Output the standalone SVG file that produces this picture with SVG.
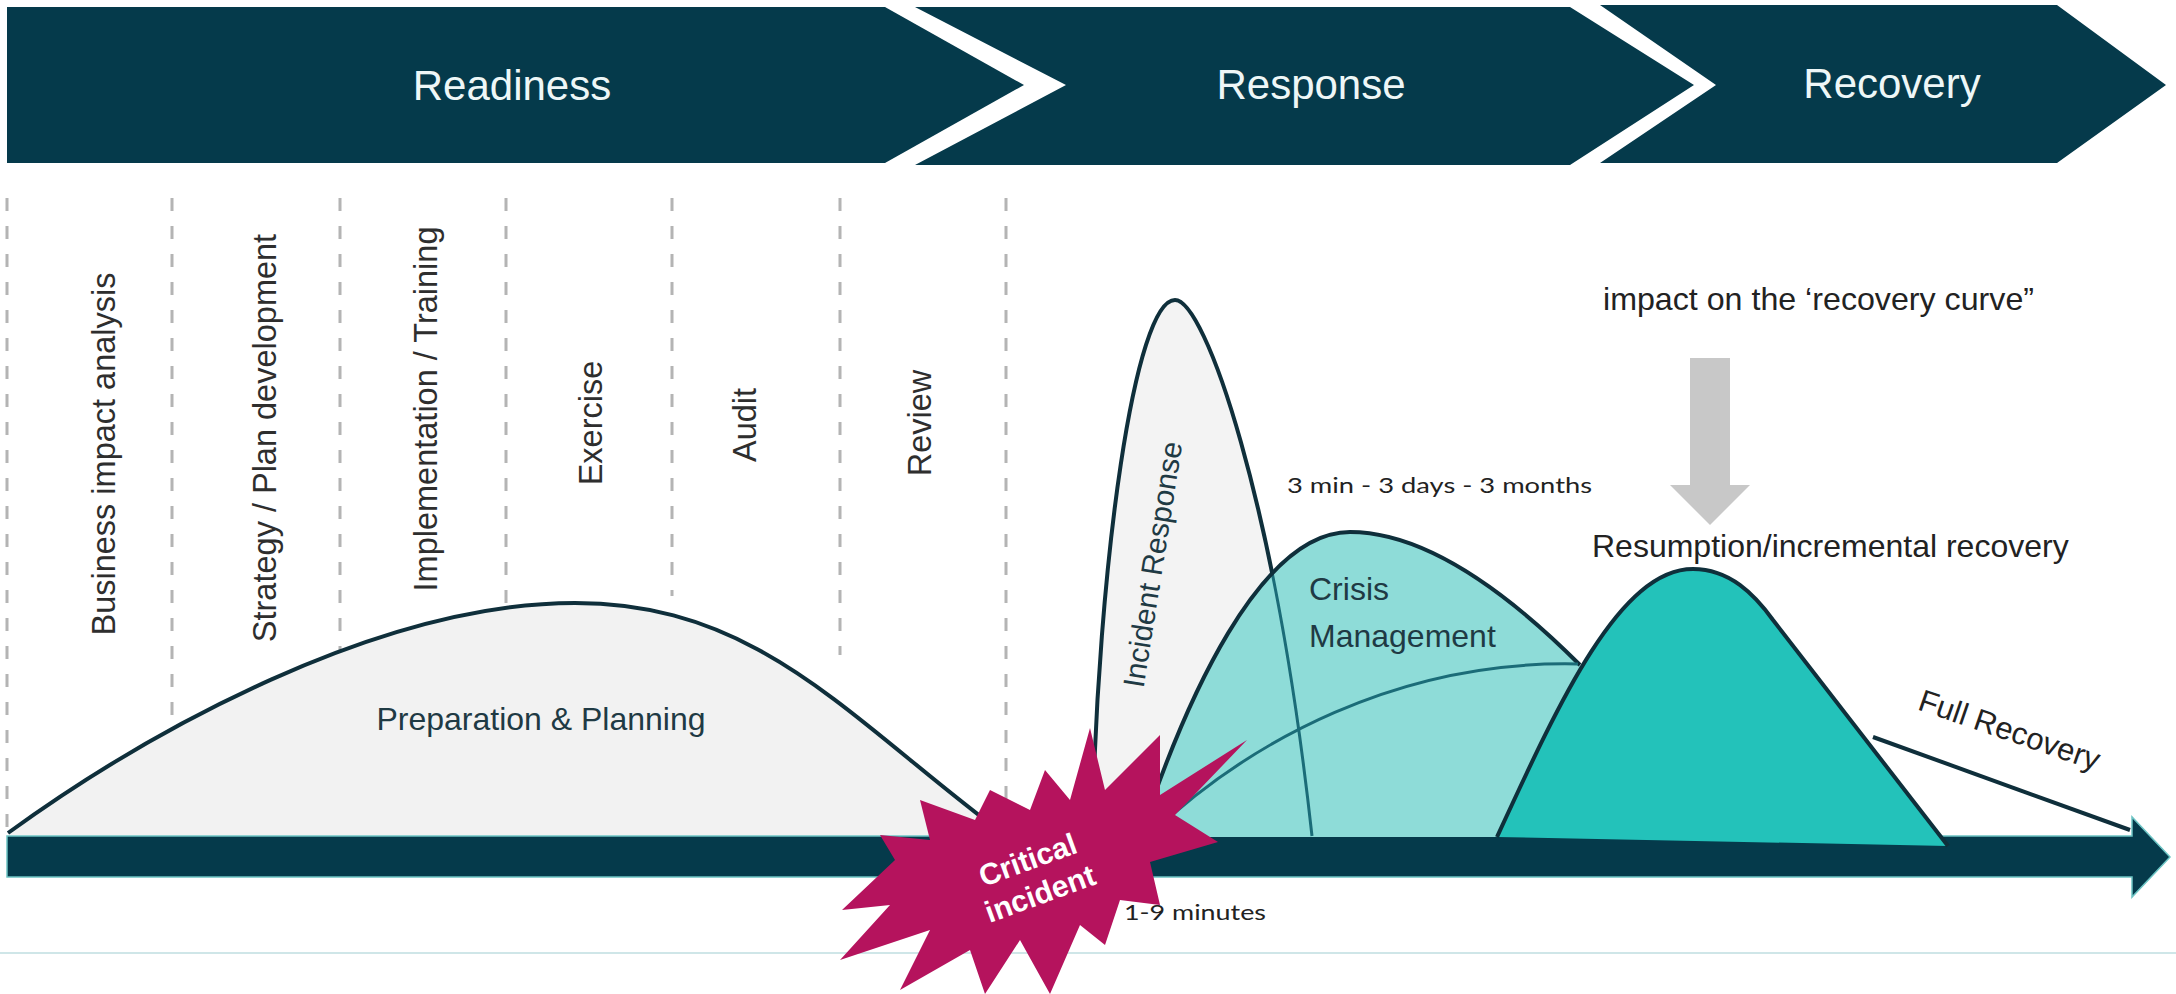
<svg xmlns="http://www.w3.org/2000/svg" width="2176" height="994" viewBox="0 0 2176 994">
<style>
.band{fill:#053a4b}
.bandtxt{font-family:"Liberation Sans",Arial,sans-serif;font-size:42px;fill:#eef7f7;text-anchor:middle}
.dash{stroke:#b4b4b4;stroke-width:3;stroke-dasharray:13 15;fill:none}
.vlab{font-family:"Liberation Sans",Arial,sans-serif;font-size:32.5px;fill:#2e2e2e;text-anchor:middle}
.lab{font-family:"Liberation Sans",Arial,sans-serif;font-size:32px;fill:#1f3a44}
.cal{font-family:Lato,"Open Sans",sans-serif;font-size:22px;fill:#222}
.curve{stroke:#0f2f3b;stroke-width:4;fill:none;stroke-linejoin:round}
.teal{stroke:#1b6c78;stroke-width:3;fill:none}
</style>
<defs>
<clipPath id="cmclip"><path d="M1140,837 C1185,700 1260,532 1350,532 C1425,532 1505,590 1580,665 L1600,837 Z"/></clipPath>
</defs>
<rect width="2176" height="994" fill="#ffffff"/>

<g id="banner-readiness">
<polygon class="band" points="7,7 885,7 1024,85 885,163 7,163"/>
<text class="bandtxt" x="512" y="100">Readiness</text>
</g>
<g id="banner-response">
<polygon class="band" points="915,7 1570,7 1694,85 1570,165 915,165 1066,85"/>
<text class="bandtxt" x="1311" y="99">Response</text>
</g>
<g id="banner-recovery">
<polygon class="band" points="1600,5 2057,5 2166,85 2057,163 1600,163 1716,85"/>
<text class="bandtxt" x="1892" y="98">Recovery</text>
</g>

<g id="dividers">
<line class="dash" x1="7" y1="198" x2="7" y2="835"/>
<line class="dash" x1="172" y1="198" x2="172" y2="835"/>
<line class="dash" x1="340" y1="198" x2="340" y2="835"/>
<line class="dash" x1="506" y1="198" x2="506" y2="835"/>
<line class="dash" x1="672" y1="198" x2="672" y2="596"/>
<line class="dash" x1="840" y1="198" x2="840" y2="655"/>
<line class="dash" x1="1006" y1="198" x2="1006" y2="835"/>
</g>

<g id="phase-labels">
<text class="vlab" transform="translate(115,454) rotate(-90)">Business impact analysis</text>
<text class="vlab" transform="translate(276,438) rotate(-90)">Strategy / Plan development</text>
<text class="vlab" transform="translate(437,409) rotate(-90)">Implementation / Training</text>
<text class="vlab" transform="translate(602,423) rotate(-90)">Exercise</text>
<text class="vlab" transform="translate(756,425) rotate(-90)">Audit</text>
<text class="vlab" transform="translate(931,423) rotate(-90)">Review</text>
</g>

<g id="bottom-rule">
<line x1="0" y1="953" x2="2176" y2="953" stroke="#cfe6e8" stroke-width="2"/>
</g>

<g id="timeline-axis">
<polygon points="7,836 2132,836 2132,817 2170,857 2132,897 2132,877 7,877" fill="#053a4b" stroke="#6cc4c4" stroke-width="1.5"/>
</g>

<g id="preparation-planning">
<path d="M8,835 C150,730 380,603 575,603 C760,603 850,720 1005,835 Z" fill="#f2f2f2"/>
<path class="curve" d="M8,833 C150,730 380,603 575,603 C760,603 850,720 1005,835"/>
<text class="lab" x="541" y="730" text-anchor="middle">Preparation &amp; Planning</text>
</g>

<g id="incident-response">
<path d="M1092,836 C1098,560 1135,300 1175,300 C1205,300 1275,500 1312,836 Z" fill="#f3f3f3"/>
<path class="curve" d="M1092,836 C1098,560 1135,300 1175,300 C1205,300 1275,500 1312,836"/>
<text class="lab" style="font-size:30px" text-anchor="middle" transform="translate(1163,566) rotate(-81)">Incident Response</text>
</g>

<g id="crisis-management">
<path d="M1140,837 C1185,700 1260,532 1350,532 C1425,532 1505,590 1580,665 L1600,837 Z" fill="#8edcd8"/>
<path class="teal" clip-path="url(#cmclip)" d="M1175,300 C1205,300 1275,500 1312,836"/>
<path class="curve" d="M1140,837 C1185,700 1260,532 1350,532 C1425,532 1505,590 1580,665"/>
<path class="teal" d="M1150,835 C1250,740 1400,660 1578,664"/>
<text class="lab" x="1309" y="600">Crisis</text>
<text class="lab" x="1309" y="647">Management</text>
</g>

<g id="resumption">
<path d="M1497,837 C1560,700 1620,569 1693,569 C1730,569 1755,595 1773,620 L1948,846 Z" fill="#23c2ba"/>
<path class="curve" d="M1497,837 C1560,700 1620,569 1693,569 C1730,569 1755,595 1773,620 L1948,846"/>
<text class="lab" x="1592" y="557" style="fill:#222">Resumption/incremental recovery</text>
</g>

<g id="full-recovery">
<line x1="1873" y1="737" x2="2130" y2="830" stroke="#0f2f3b" stroke-width="4"/>
<text class="lab" style="font-size:31px;fill:#222" text-anchor="middle" transform="translate(2006,740) rotate(19)">Full Recovery</text>
</g>

<g id="impact-note">
<text class="lab" x="1603" y="310" style="fill:#222" textLength="431" lengthAdjust="spacingAndGlyphs">impact on the ‘recovery curve”</text>
<polygon points="1690,358 1730,358 1730,485 1750,485 1710,525 1670,485 1690,485" fill="#c8c8c8"/>
</g>

<g id="durations">
<text class="cal" x="1287" y="493" textLength="305" lengthAdjust="spacingAndGlyphs">3 min - 3 days - 3 months</text>
<text class="cal" x="1124" y="920" textLength="142" lengthAdjust="spacingAndGlyphs">1-9 minutes</text>
</g>

<g id="critical-incident">
<polygon fill="#b5135d" points="1090,728 1105,790 1160,735 1160,795 1247,740 1175,815 1218,842 1150,862 1160,905 1120,900 1105,945 1080,925 1050,994 1020,940 985,994 970,950 900,990 930,930 840,960 890,905 842,910 895,860 880,835 930,840 920,800 975,820 990,790 1030,810 1045,770 1070,800"/>
<g transform="translate(1034,877) rotate(-20)" font-family="Liberation Sans, Arial, sans-serif" font-weight="bold" font-size="30" fill="#ffffff" text-anchor="middle">
<text x="0" y="-8">Critical</text>
<text x="0" y="28">incident</text>
</g>
</g>
</svg>
